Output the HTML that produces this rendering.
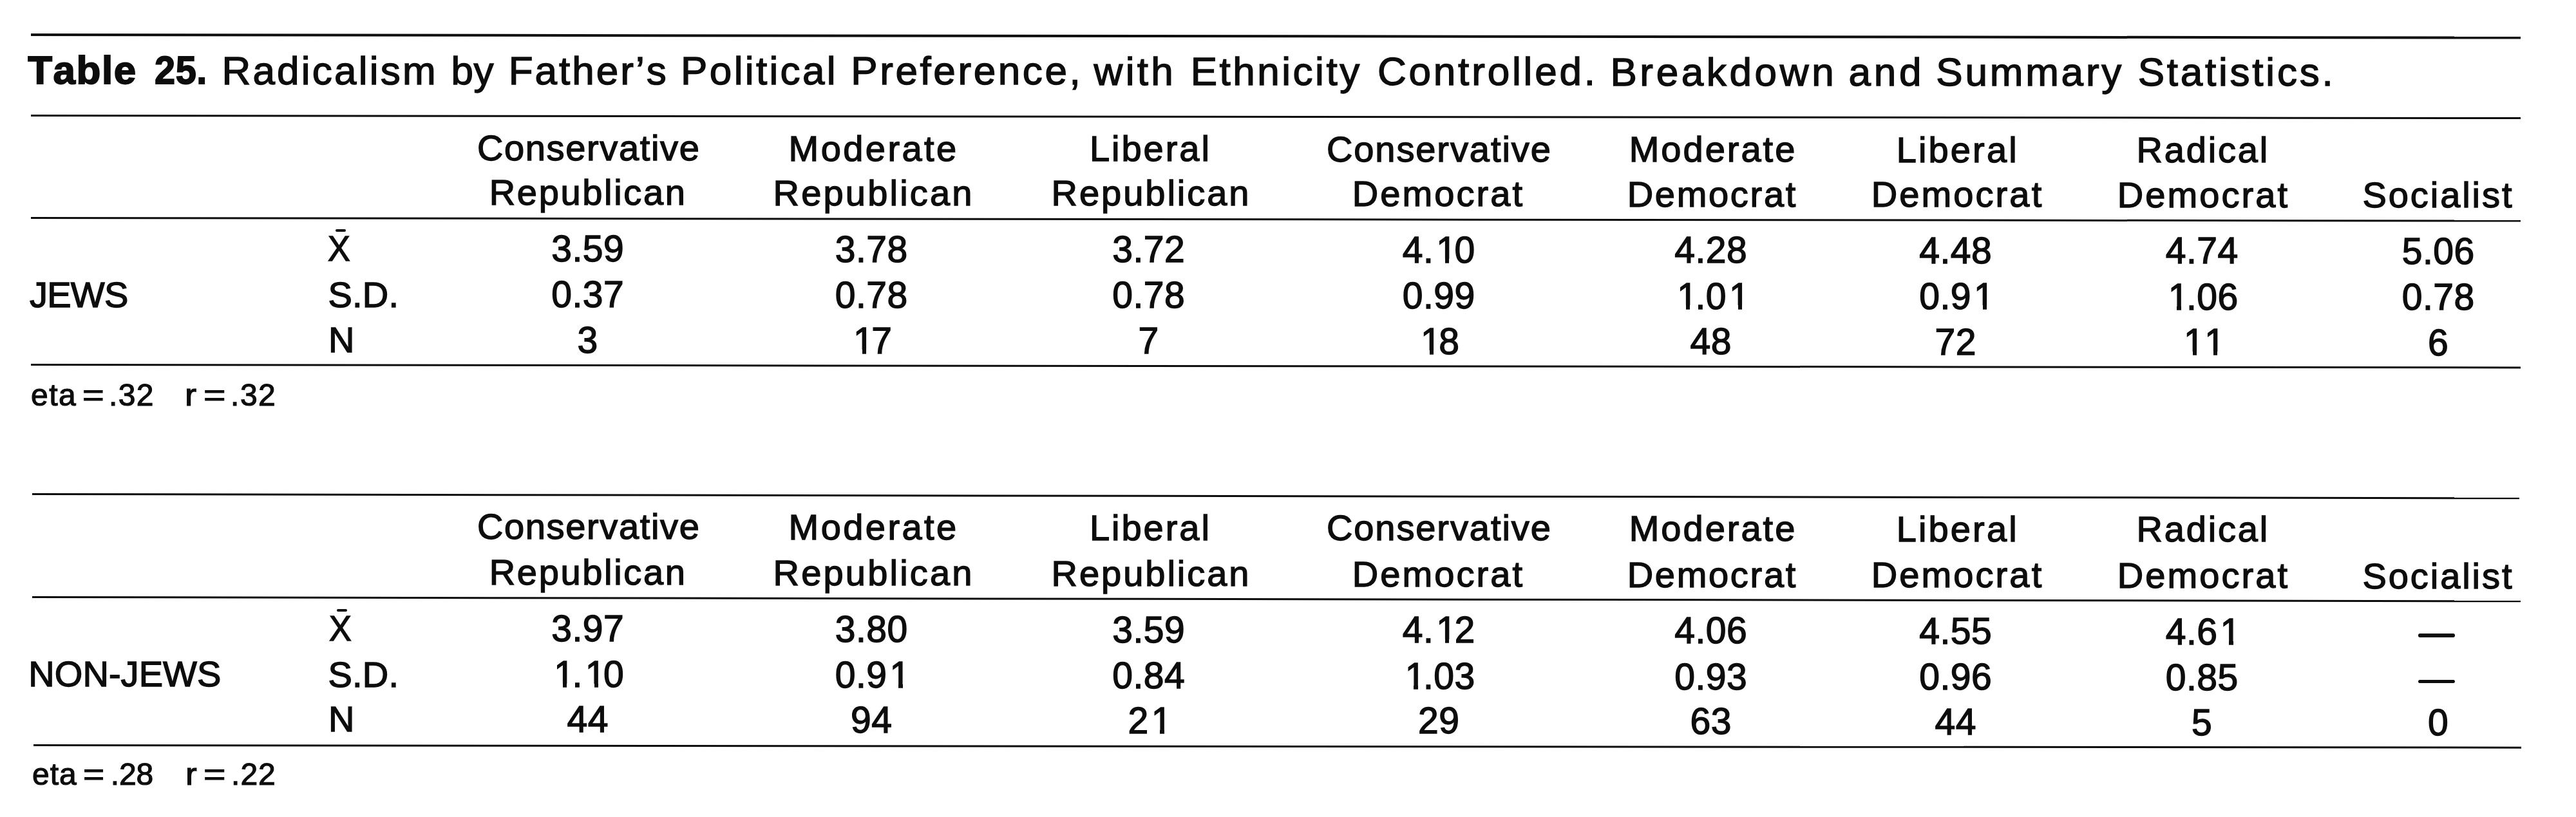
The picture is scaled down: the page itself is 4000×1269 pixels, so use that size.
<!DOCTYPE html>
<html lang="en">
<head>
<meta charset="utf-8">
<title>Table 25</title>
<style>
html,body{margin:0;padding:0;background:#fff;}
body{width:4000px;height:1269px;position:relative;overflow:hidden;font-family:"Liberation Sans",sans-serif;color:#0d0d0d;}
.t{position:absolute;white-space:nowrap;line-height:1;font-kerning:none;font-variant-ligatures:none;filter:blur(0.35px);}
.ln{position:absolute;background:#0d0d0d;transform-origin:0 50%;}
.mk{position:absolute;background:#fff;}
.o{position:relative;left:4px;}
</style>
</head>
<body>
<div class="ln" style="left:48.0px;top:51.9px;width:3866.0px;height:3.6px;transform:rotate(0.0682deg)"></div>
<div class="ln" style="left:48.0px;top:178.3px;width:3866.0px;height:3.4px;transform:rotate(0.0593deg)"></div>
<div class="ln" style="left:48.0px;top:336.7px;width:3866.0px;height:3.4px;transform:rotate(0.0682deg)"></div>
<div class="ln" style="left:48.0px;top:565.3px;width:3866.0px;height:3.4px;transform:rotate(0.0652deg)"></div>
<div class="ln" style="left:49.5px;top:765.9px;width:3861.5px;height:3.2px;transform:rotate(0.0935deg)"></div>
<div class="ln" style="left:49.5px;top:925.7px;width:3863.5px;height:3.2px;transform:rotate(0.0934deg)"></div>
<div class="ln" style="left:51.5px;top:1155.8px;width:3862.5px;height:3.0px;transform:rotate(0.0549deg)"></div>
<div class="t" style="left:43.2px;top:78.2px;font-size:62px;letter-spacing:1.52px;-webkit-text-stroke:1.8px #0d0d0d;font-weight:bold;">Table</div>
<div class="t" style="left:240.0px;top:78.3px;font-size:62px;letter-spacing:0.61px;-webkit-text-stroke:1.8px #0d0d0d;font-weight:bold;transform:scaleX(0.93);transform-origin:0 0;">25.</div>
<div class="t" style="left:344.4px;top:78.5px;font-size:62px;letter-spacing:3.23px;-webkit-text-stroke:1.4px #0d0d0d;">Radicalism</div>
<div class="t" style="left:700.4px;top:78.7px;font-size:62px;letter-spacing:0.64px;-webkit-text-stroke:1.4px #0d0d0d;">by</div>
<div class="t" style="left:789.7px;top:78.9px;font-size:62px;letter-spacing:3.02px;-webkit-text-stroke:1.4px #0d0d0d;">Father’s</div>
<div class="t" style="left:1057.1px;top:79.1px;font-size:62px;letter-spacing:3.35px;-webkit-text-stroke:1.4px #0d0d0d;">Political</div>
<div class="t" style="left:1321.3px;top:79.4px;font-size:62px;letter-spacing:3.59px;-webkit-text-stroke:1.4px #0d0d0d;">Preference,</div>
<div class="t" style="left:1698.6px;top:79.7px;font-size:62px;letter-spacing:4.33px;-webkit-text-stroke:1.4px #0d0d0d;">with</div>
<div class="t" style="left:1848.7px;top:79.9px;font-size:62px;letter-spacing:3.52px;-webkit-text-stroke:1.4px #0d0d0d;">Ethnicity</div>
<div class="t" style="left:2138.9px;top:80.2px;font-size:62px;letter-spacing:3.83px;-webkit-text-stroke:1.4px #0d0d0d;">Controlled.</div>
<div class="t" style="left:2500.4px;top:80.5px;font-size:62px;letter-spacing:4.63px;-webkit-text-stroke:1.4px #0d0d0d;">Breakdown</div>
<div class="t" style="left:2870.6px;top:80.7px;font-size:62px;letter-spacing:4.69px;-webkit-text-stroke:1.4px #0d0d0d;">and</div>
<div class="t" style="left:3006.3px;top:80.9px;font-size:62px;letter-spacing:3.80px;-webkit-text-stroke:1.4px #0d0d0d;">Summary</div>
<div class="t" style="left:3319.7px;top:81.2px;font-size:62px;letter-spacing:3.77px;-webkit-text-stroke:1.4px #0d0d0d;">Statistics.</div>
<div class="t" style="left:740.9px;top:202.1px;font-size:56px;letter-spacing:1.65px;-webkit-text-stroke:1.4px #0d0d0d;">Conservative</div>
<div class="t" style="left:1224.6px;top:202.7px;font-size:56px;letter-spacing:3.44px;-webkit-text-stroke:1.4px #0d0d0d;">Moderate</div>
<div class="t" style="left:1691.9px;top:203.2px;font-size:56px;letter-spacing:2.97px;-webkit-text-stroke:1.4px #0d0d0d;">Liberal</div>
<div class="t" style="left:2059.9px;top:203.8px;font-size:56px;letter-spacing:1.92px;-webkit-text-stroke:1.4px #0d0d0d;">Conservative</div>
<div class="t" style="left:2529.7px;top:204.4px;font-size:56px;letter-spacing:3.01px;-webkit-text-stroke:1.4px #0d0d0d;">Moderate</div>
<div class="t" style="left:2944.7px;top:204.9px;font-size:56px;letter-spacing:3.14px;-webkit-text-stroke:1.4px #0d0d0d;">Liberal</div>
<div class="t" style="left:3317.4px;top:205.4px;font-size:56px;letter-spacing:2.86px;-webkit-text-stroke:1.4px #0d0d0d;">Radical</div>
<div class="t" style="left:759.7px;top:271.3px;font-size:56px;letter-spacing:2.68px;-webkit-text-stroke:1.4px #0d0d0d;">Republican</div>
<div class="t" style="left:1200.6px;top:271.9px;font-size:56px;letter-spacing:3.18px;-webkit-text-stroke:1.4px #0d0d0d;">Republican</div>
<div class="t" style="left:1632.6px;top:272.4px;font-size:56px;letter-spacing:2.96px;-webkit-text-stroke:1.4px #0d0d0d;">Republican</div>
<div class="t" style="left:2099.7px;top:273.0px;font-size:56px;letter-spacing:3.10px;-webkit-text-stroke:1.4px #0d0d0d;">Democrat</div>
<div class="t" style="left:2526.7px;top:273.6px;font-size:56px;letter-spacing:2.70px;-webkit-text-stroke:1.4px #0d0d0d;">Democrat</div>
<div class="t" style="left:2905.7px;top:274.1px;font-size:56px;letter-spacing:3.11px;-webkit-text-stroke:1.4px #0d0d0d;">Democrat</div>
<div class="t" style="left:3287.7px;top:274.6px;font-size:56px;letter-spacing:3.10px;-webkit-text-stroke:1.4px #0d0d0d;">Democrat</div>
<div class="t" style="left:3668.4px;top:275.0px;font-size:56px;letter-spacing:2.95px;-webkit-text-stroke:1.4px #0d0d0d;">Socialist</div>
<div class="t" style="left:508.8px;top:358.4px;font-size:56px;letter-spacing:0.00px;-webkit-text-stroke:1.4px #0d0d0d;transform:scaleX(0.93);transform-origin:0 0;">X</div>
<div class="ln" style="left:521.3px;top:355.7px;width:15.6px;height:4.2px;border-radius:2.1px"></div>
<div class="t" style="left:509.4px;top:429.6px;font-size:56px;letter-spacing:0.22px;-webkit-text-stroke:1.4px #0d0d0d;">S.D.</div>
<div class="t" style="left:510.1px;top:500.3px;font-size:56px;letter-spacing:0.00px;-webkit-text-stroke:1.4px #0d0d0d;">N</div>
<div class="t" style="left:856.3px;top:358.1px;font-size:57px;letter-spacing:0.50px;-webkit-text-stroke:1.4px #0d0d0d;">3.59</div>
<div class="t" style="left:1296.8px;top:358.6px;font-size:57px;letter-spacing:0.50px;-webkit-text-stroke:1.4px #0d0d0d;">3.78</div>
<div class="t" style="left:1727.3px;top:359.2px;font-size:57px;letter-spacing:0.50px;-webkit-text-stroke:1.4px #0d0d0d;">3.72</div>
<div class="t" style="left:2177.8px;top:359.8px;font-size:57px;letter-spacing:0.50px;-webkit-text-stroke:1.4px #0d0d0d;">4.<span class="o">1</span>0</div>
<div class="t" style="left:2600.3px;top:360.3px;font-size:57px;letter-spacing:0.50px;-webkit-text-stroke:1.4px #0d0d0d;">4.28</div>
<div class="t" style="left:2980.3px;top:360.8px;font-size:57px;letter-spacing:0.50px;-webkit-text-stroke:1.4px #0d0d0d;">4.48</div>
<div class="t" style="left:3362.8px;top:361.3px;font-size:57px;letter-spacing:0.50px;-webkit-text-stroke:1.4px #0d0d0d;">4.74</div>
<div class="t" style="left:3729.8px;top:361.8px;font-size:57px;letter-spacing:0.50px;-webkit-text-stroke:1.4px #0d0d0d;">5.06</div>
<div class="t" style="left:856.3px;top:429.3px;font-size:57px;letter-spacing:0.50px;-webkit-text-stroke:1.4px #0d0d0d;">0.37</div>
<div class="t" style="left:1296.8px;top:429.8px;font-size:57px;letter-spacing:0.50px;-webkit-text-stroke:1.4px #0d0d0d;">0.78</div>
<div class="t" style="left:1727.3px;top:430.4px;font-size:57px;letter-spacing:0.50px;-webkit-text-stroke:1.4px #0d0d0d;">0.78</div>
<div class="t" style="left:2177.8px;top:431.0px;font-size:57px;letter-spacing:0.50px;-webkit-text-stroke:1.4px #0d0d0d;">0.99</div>
<div class="t" style="left:2600.3px;top:431.5px;font-size:57px;letter-spacing:0.50px;-webkit-text-stroke:1.4px #0d0d0d;"><span class="o">1</span>.0<span class="o">1</span></div>
<div class="t" style="left:2980.3px;top:432.0px;font-size:57px;letter-spacing:0.50px;-webkit-text-stroke:1.4px #0d0d0d;">0.9<span class="o">1</span></div>
<div class="t" style="left:3362.8px;top:432.5px;font-size:57px;letter-spacing:0.50px;-webkit-text-stroke:1.4px #0d0d0d;"><span class="o">1</span>.06</div>
<div class="t" style="left:3729.8px;top:433.0px;font-size:57px;letter-spacing:0.50px;-webkit-text-stroke:1.4px #0d0d0d;">0.78</div>
<div class="t" style="left:896.6px;top:500.0px;font-size:57px;letter-spacing:0.50px;-webkit-text-stroke:1.4px #0d0d0d;">3</div>
<div class="t" style="left:1321.0px;top:500.5px;font-size:57px;letter-spacing:0.50px;-webkit-text-stroke:1.4px #0d0d0d;"><span class="o">1</span>7</div>
<div class="t" style="left:1767.6px;top:501.1px;font-size:57px;letter-spacing:0.50px;-webkit-text-stroke:1.4px #0d0d0d;">7</div>
<div class="t" style="left:2202.0px;top:501.7px;font-size:57px;letter-spacing:0.50px;-webkit-text-stroke:1.4px #0d0d0d;"><span class="o">1</span>8</div>
<div class="t" style="left:2624.5px;top:502.2px;font-size:57px;letter-spacing:0.50px;-webkit-text-stroke:1.4px #0d0d0d;">48</div>
<div class="t" style="left:3004.5px;top:502.7px;font-size:57px;letter-spacing:0.50px;-webkit-text-stroke:1.4px #0d0d0d;">72</div>
<div class="t" style="left:3387.0px;top:503.2px;font-size:57px;letter-spacing:0.50px;-webkit-text-stroke:1.4px #0d0d0d;"><span class="o">1</span><span class="o">1</span></div>
<div class="t" style="left:3770.1px;top:503.7px;font-size:57px;letter-spacing:0.50px;-webkit-text-stroke:1.4px #0d0d0d;">6</div>
<div class="t" style="left:46.0px;top:429.9px;font-size:56px;letter-spacing:-0.77px;-webkit-text-stroke:1.4px #0d0d0d;">JEWS</div>
<div class="t" style="left:48.0px;top:589.7px;font-size:48px;letter-spacing:1.51px;-webkit-text-stroke:1.2px #0d0d0d;">eta</div>
<div class="t" style="left:128.4px;top:589.7px;font-size:48px;letter-spacing:0.00px;-webkit-text-stroke:1.2px #0d0d0d;transform:scaleX(1.203);transform-origin:0 0;">=</div>
<div class="t" style="left:168.9px;top:589.7px;font-size:48px;letter-spacing:1.44px;-webkit-text-stroke:1.2px #0d0d0d;">.32</div>
<div class="t" style="left:286.8px;top:589.7px;font-size:48px;letter-spacing:0.00px;-webkit-text-stroke:1.2px #0d0d0d;transform:scaleX(1.129);transform-origin:0 0;">r</div>
<div class="t" style="left:316.1px;top:589.7px;font-size:48px;letter-spacing:0.00px;-webkit-text-stroke:1.2px #0d0d0d;transform:scaleX(1.228);transform-origin:0 0;">=</div>
<div class="t" style="left:358.1px;top:589.7px;font-size:48px;letter-spacing:1.49px;-webkit-text-stroke:1.2px #0d0d0d;">.32</div>
<div class="t" style="left:740.9px;top:789.9px;font-size:56px;letter-spacing:1.65px;-webkit-text-stroke:1.4px #0d0d0d;">Conservative</div>
<div class="t" style="left:1224.6px;top:790.7px;font-size:56px;letter-spacing:3.44px;-webkit-text-stroke:1.4px #0d0d0d;">Moderate</div>
<div class="t" style="left:1691.9px;top:791.5px;font-size:56px;letter-spacing:2.97px;-webkit-text-stroke:1.4px #0d0d0d;">Liberal</div>
<div class="t" style="left:2059.9px;top:792.3px;font-size:56px;letter-spacing:1.92px;-webkit-text-stroke:1.4px #0d0d0d;">Conservative</div>
<div class="t" style="left:2529.7px;top:793.0px;font-size:56px;letter-spacing:3.01px;-webkit-text-stroke:1.4px #0d0d0d;">Moderate</div>
<div class="t" style="left:2944.7px;top:793.7px;font-size:56px;letter-spacing:3.14px;-webkit-text-stroke:1.4px #0d0d0d;">Liberal</div>
<div class="t" style="left:3317.4px;top:794.4px;font-size:56px;letter-spacing:2.86px;-webkit-text-stroke:1.4px #0d0d0d;">Radical</div>
<div class="t" style="left:759.7px;top:861.4px;font-size:56px;letter-spacing:2.68px;-webkit-text-stroke:1.4px #0d0d0d;">Republican</div>
<div class="t" style="left:1200.6px;top:862.2px;font-size:56px;letter-spacing:3.18px;-webkit-text-stroke:1.4px #0d0d0d;">Republican</div>
<div class="t" style="left:1632.6px;top:863.0px;font-size:56px;letter-spacing:2.96px;-webkit-text-stroke:1.4px #0d0d0d;">Republican</div>
<div class="t" style="left:2099.7px;top:863.8px;font-size:56px;letter-spacing:3.10px;-webkit-text-stroke:1.4px #0d0d0d;">Democrat</div>
<div class="t" style="left:2526.7px;top:864.5px;font-size:56px;letter-spacing:2.70px;-webkit-text-stroke:1.4px #0d0d0d;">Democrat</div>
<div class="t" style="left:2905.7px;top:865.2px;font-size:56px;letter-spacing:3.11px;-webkit-text-stroke:1.4px #0d0d0d;">Democrat</div>
<div class="t" style="left:3287.7px;top:865.9px;font-size:56px;letter-spacing:3.10px;-webkit-text-stroke:1.4px #0d0d0d;">Democrat</div>
<div class="t" style="left:3668.4px;top:866.6px;font-size:56px;letter-spacing:2.95px;-webkit-text-stroke:1.4px #0d0d0d;">Socialist</div>
<div class="t" style="left:510.5px;top:948.2px;font-size:56px;letter-spacing:0.00px;-webkit-text-stroke:1.4px #0d0d0d;transform:scaleX(0.93);transform-origin:0 0;">X</div>
<div class="ln" style="left:523.0px;top:945.5px;width:15.6px;height:4.2px;border-radius:2.1px"></div>
<div class="t" style="left:509.4px;top:1019.6px;font-size:56px;letter-spacing:0.22px;-webkit-text-stroke:1.4px #0d0d0d;">S.D.</div>
<div class="t" style="left:510.1px;top:1089.1px;font-size:56px;letter-spacing:0.00px;-webkit-text-stroke:1.4px #0d0d0d;">N</div>
<div class="t" style="left:856.3px;top:948.1px;font-size:57px;letter-spacing:0.50px;-webkit-text-stroke:1.4px #0d0d0d;">3.97</div>
<div class="t" style="left:1296.8px;top:948.8px;font-size:57px;letter-spacing:0.50px;-webkit-text-stroke:1.4px #0d0d0d;">3.80</div>
<div class="t" style="left:1727.3px;top:949.6px;font-size:57px;letter-spacing:0.50px;-webkit-text-stroke:1.4px #0d0d0d;">3.59</div>
<div class="t" style="left:2177.8px;top:950.4px;font-size:57px;letter-spacing:0.50px;-webkit-text-stroke:1.4px #0d0d0d;">4.<span class="o">1</span>2</div>
<div class="t" style="left:2600.3px;top:951.2px;font-size:57px;letter-spacing:0.50px;-webkit-text-stroke:1.4px #0d0d0d;">4.06</div>
<div class="t" style="left:2980.3px;top:951.9px;font-size:57px;letter-spacing:0.50px;-webkit-text-stroke:1.4px #0d0d0d;">4.55</div>
<div class="t" style="left:3362.8px;top:952.6px;font-size:57px;letter-spacing:0.50px;-webkit-text-stroke:1.4px #0d0d0d;">4.6<span class="o">1</span></div>
<div class="ln" style="left:3755.0px;top:984.2px;width:57px;height:5.4px;border-radius:2.7px"></div>
<div class="t" style="left:856.3px;top:1019.4px;font-size:57px;letter-spacing:0.50px;-webkit-text-stroke:1.4px #0d0d0d;"><span class="o">1</span>.<span class="o">1</span>0</div>
<div class="t" style="left:1296.8px;top:1020.1px;font-size:57px;letter-spacing:0.50px;-webkit-text-stroke:1.4px #0d0d0d;">0.9<span class="o">1</span></div>
<div class="t" style="left:1727.3px;top:1020.9px;font-size:57px;letter-spacing:0.50px;-webkit-text-stroke:1.4px #0d0d0d;">0.84</div>
<div class="t" style="left:2177.8px;top:1021.7px;font-size:57px;letter-spacing:0.50px;-webkit-text-stroke:1.4px #0d0d0d;"><span class="o">1</span>.03</div>
<div class="t" style="left:2600.3px;top:1022.5px;font-size:57px;letter-spacing:0.50px;-webkit-text-stroke:1.4px #0d0d0d;">0.93</div>
<div class="t" style="left:2980.3px;top:1023.2px;font-size:57px;letter-spacing:0.50px;-webkit-text-stroke:1.4px #0d0d0d;">0.96</div>
<div class="t" style="left:3362.8px;top:1023.9px;font-size:57px;letter-spacing:0.50px;-webkit-text-stroke:1.4px #0d0d0d;">0.85</div>
<div class="ln" style="left:3755.0px;top:1055.5px;width:57px;height:5.4px;border-radius:2.7px"></div>
<div class="t" style="left:880.5px;top:1089.0px;font-size:57px;letter-spacing:0.50px;-webkit-text-stroke:1.4px #0d0d0d;">44</div>
<div class="t" style="left:1321.0px;top:1089.7px;font-size:57px;letter-spacing:0.50px;-webkit-text-stroke:1.4px #0d0d0d;">94</div>
<div class="t" style="left:1751.5px;top:1090.5px;font-size:57px;letter-spacing:0.50px;-webkit-text-stroke:1.4px #0d0d0d;">2<span class="o">1</span></div>
<div class="t" style="left:2202.0px;top:1091.3px;font-size:57px;letter-spacing:0.50px;-webkit-text-stroke:1.4px #0d0d0d;">29</div>
<div class="t" style="left:2624.5px;top:1092.1px;font-size:57px;letter-spacing:0.50px;-webkit-text-stroke:1.4px #0d0d0d;">63</div>
<div class="t" style="left:3004.5px;top:1092.8px;font-size:57px;letter-spacing:0.50px;-webkit-text-stroke:1.4px #0d0d0d;">44</div>
<div class="t" style="left:3403.1px;top:1093.5px;font-size:57px;letter-spacing:0.50px;-webkit-text-stroke:1.4px #0d0d0d;">5</div>
<div class="t" style="left:3770.1px;top:1094.1px;font-size:57px;letter-spacing:0.50px;-webkit-text-stroke:1.4px #0d0d0d;">0</div>
<div class="t" style="left:44.3px;top:1019.4px;font-size:56px;letter-spacing:0.05px;-webkit-text-stroke:1.4px #0d0d0d;">NON-JEWS</div>
<div class="t" style="left:50.0px;top:1179.1px;font-size:48px;letter-spacing:1.01px;-webkit-text-stroke:1.2px #0d0d0d;">eta</div>
<div class="t" style="left:128.9px;top:1179.1px;font-size:48px;letter-spacing:0.00px;-webkit-text-stroke:1.2px #0d0d0d;transform:scaleX(1.183);transform-origin:0 0;">=</div>
<div class="t" style="left:171.8px;top:1179.1px;font-size:48px;letter-spacing:-0.18px;-webkit-text-stroke:1.2px #0d0d0d;">.28</div>
<div class="t" style="left:288.1px;top:1179.1px;font-size:48px;letter-spacing:0.00px;-webkit-text-stroke:1.2px #0d0d0d;transform:scaleX(1.106);transform-origin:0 0;">r</div>
<div class="t" style="left:316.1px;top:1179.1px;font-size:48px;letter-spacing:0.00px;-webkit-text-stroke:1.2px #0d0d0d;transform:scaleX(1.228);transform-origin:0 0;">=</div>
<div class="t" style="left:359.1px;top:1179.1px;font-size:48px;letter-spacing:0.99px;-webkit-text-stroke:1.2px #0d0d0d;">.22</div>
<div class="mk" style="left:2233.0px;top:402.2px;width:11.0px;height:7.5px"></div>
<div class="mk" style="left:2250.4px;top:402.2px;width:10.5px;height:7.5px"></div>
<div class="mk" style="left:2606.9px;top:473.9px;width:11.0px;height:7.5px"></div>
<div class="mk" style="left:2624.4px;top:473.9px;width:10.5px;height:7.5px"></div>
<div class="mk" style="left:2687.7px;top:473.9px;width:11.0px;height:7.5px"></div>
<div class="mk" style="left:2705.1px;top:473.9px;width:10.5px;height:7.5px"></div>
<div class="mk" style="left:3067.7px;top:474.4px;width:11.0px;height:7.5px"></div>
<div class="mk" style="left:3085.1px;top:474.4px;width:10.5px;height:7.5px"></div>
<div class="mk" style="left:3369.4px;top:474.9px;width:11.0px;height:7.5px"></div>
<div class="mk" style="left:3386.9px;top:474.9px;width:10.5px;height:7.5px"></div>
<div class="mk" style="left:1327.7px;top:542.9px;width:11.0px;height:7.5px"></div>
<div class="mk" style="left:1345.1px;top:542.9px;width:10.5px;height:7.5px"></div>
<div class="mk" style="left:2208.7px;top:544.1px;width:11.0px;height:7.5px"></div>
<div class="mk" style="left:2226.1px;top:544.1px;width:10.5px;height:7.5px"></div>
<div class="mk" style="left:3393.7px;top:545.6px;width:11.0px;height:7.5px"></div>
<div class="mk" style="left:3411.1px;top:545.6px;width:10.5px;height:7.5px"></div>
<div class="mk" style="left:3425.9px;top:545.6px;width:11.0px;height:7.5px"></div>
<div class="mk" style="left:3443.3px;top:545.6px;width:10.5px;height:7.5px"></div>
<div class="mk" style="left:2233.0px;top:992.8px;width:11.0px;height:7.5px"></div>
<div class="mk" style="left:2250.4px;top:992.8px;width:10.5px;height:7.5px"></div>
<div class="mk" style="left:3450.2px;top:995.0px;width:11.0px;height:7.5px"></div>
<div class="mk" style="left:3467.6px;top:995.0px;width:10.5px;height:7.5px"></div>
<div class="mk" style="left:862.9px;top:1061.7px;width:11.0px;height:7.5px"></div>
<div class="mk" style="left:880.4px;top:1061.7px;width:10.5px;height:7.5px"></div>
<div class="mk" style="left:911.5px;top:1061.7px;width:11.0px;height:7.5px"></div>
<div class="mk" style="left:928.9px;top:1061.7px;width:10.5px;height:7.5px"></div>
<div class="mk" style="left:1384.2px;top:1062.5px;width:11.0px;height:7.5px"></div>
<div class="mk" style="left:1401.6px;top:1062.5px;width:10.5px;height:7.5px"></div>
<div class="mk" style="left:2184.4px;top:1064.1px;width:11.0px;height:7.5px"></div>
<div class="mk" style="left:2201.9px;top:1064.1px;width:10.5px;height:7.5px"></div>
<div class="mk" style="left:1790.4px;top:1132.9px;width:11.0px;height:7.5px"></div>
<div class="mk" style="left:1807.8px;top:1132.9px;width:10.5px;height:7.5px"></div>
</body>
</html>
